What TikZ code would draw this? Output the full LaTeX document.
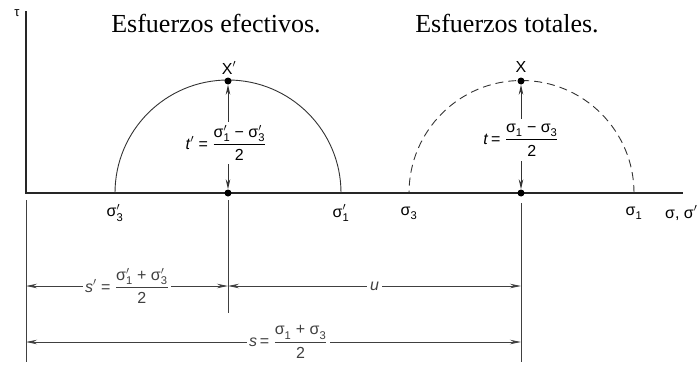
\documentclass[tikz,border=0pt]{standalone}
\usepackage{fontspec}
\usepackage{amsmath}
\setmainfont{Liberation Serif}
\newfontfamily\lab{Liberation Sans}
\usetikzlibrary{arrows.meta}
\newcommand\sgm[2]{$\text{σ}_{\text{#1}}^{#2}$}
\newcommand\frc[2]{$\dfrac{\mbox{\rule[-3pt]{0pt}{0pt}#1}}{\mbox{\rule{0pt}{13pt}#2}}$}
\begin{document}
\begin{tikzpicture}[x=1pt,y=-1pt,
  lbl/.style={font=\lab\fontsize{16}{18}\selectfont, inner sep=1pt},
  ttl/.style={font=\fontsize{26}{30}\selectfont, anchor=base, inner sep=0pt},
  axis/.style={line width=1.4pt, black!85},
  circ/.style={line width=0.9pt, black!80},
  ext/.style={line width=0.9pt, black!75},
  dim/.style={line width=0.9pt, black!75, {Stealth[length=11pt,width=4.5pt]}-{Stealth[length=11pt,width=4.5pt]}},
  varr/.style={line width=0.9pt, black!80, -{Stealth[length=10pt,width=4.5pt]}},
  dot/.style={circle, fill=black, inner sep=0pt, minimum size=7pt},
  dlab/.style={lbl, fill=white, inner sep=2pt}]
\useasboundingbox (0,0) rectangle (700,364);
% axes
\coordinate (Ttop) at (26,11);
\coordinate (O) at (26,193);
\coordinate (Xend) at (683,193);
\draw[axis] (Ttop) -- (O) -- (Xend);
\node[font=\lab\fontsize{13}{14}\selectfont, inner sep=0pt] (tau) at (17,13) {τ};
% titles
\node[ttl] (t1) at (216,32) {Esfuerzos efectivos.};
\node[ttl] (t2) at (507,32) {Esfuerzos totales.};
% effective circle
\coordinate (e3) at (115,193);
\coordinate (e1) at (341,193);
\draw[circ] (e1) arc[start angle=0, end angle=-180, radius=113];
% total circle
\coordinate (s3) at (409,193);
\coordinate (s1) at (634,193);
\draw[circ, dash pattern=on 8pt off 5pt] (s1) arc[start angle=0, end angle=-180, radius=112.5];
% dots
\node[dot] (Xp) at (228,81) {};
\node[dot] (Bp) at (228,193) {};
\node[dot] (X) at (521,81) {};
\node[dot] (B) at (521,193) {};
\node[lbl, font=\lab\fontsize{16}{18}\selectfont] (Xpl) at (229,68) {X$'$};
\node[lbl, font=\lab\fontsize{16}{18}\selectfont] (Xl) at (521,67) {X};
% axis labels
\node[lbl] (l3p) at (115,213) {\sgm{3}{\prime}};
\node[lbl] (l1p) at (341,213) {\sgm{1}{\prime}};
\node[lbl] (l3) at (409,213) {\sgm{3}{}};
\node[lbl] (l1) at (634,213) {\sgm{1}{}};
\node[lbl, anchor=west] (lax) at (664,213) {σ, σ$'$};
% t labels
\node[lbl, inner sep=0pt, minimum height=42pt] (tp) at (226,143) {\textit{t}$'$ = \frc{\sgm{1}{\prime} − \sgm{3}{\prime}}{2}};
\node[lbl, inner sep=0pt, minimum height=42pt] (tt) at (521,140) {\textit{t}\,= \frc{\sgm{1}{} − \sgm{3}{}}{2}};
\draw[varr] (Xp |- tp.north) -- (Xp);
\draw[varr] (Bp |- tp.south) -- (Bp);
\draw[varr] (X |- tt.north) -- (X);
\draw[varr] (B |- tt.south) -- (B);
% extension lines
\coordinate (a0) at (26,200);   \coordinate (a1) at (26,362);
\coordinate (b0) at (228,200);  \coordinate (b1) at (228,313);
\coordinate (c0) at (521,203);  \coordinate (c1) at (521,362);
\draw[ext] (a0) -- (a1);
\draw[ext] (b0) -- (b1);
\draw[ext] (c0) -- (c1);
% dimension lines
\coordinate (d1l) at (26,286);  \coordinate (d1r) at (228,286);
\coordinate (d2r) at (521,286);
\coordinate (d3l) at (26,342);  \coordinate (d3r) at (521,342);
\draw[dim] (d1l) -- node[dlab] (sp) {\textit{s}$'$ = \frc{\sgm{1}{\prime} + \sgm{3}{\prime}}{2}} (d1r);
\draw[dim] (d1r) -- node[dlab, inner sep=3pt] (u) {\textit{u}} (d2r);
\draw[dim] (d3l) -- node[dlab, pos=0.53] (s) {\textit{s}\,= \frc{\sgm{1}{} + \sgm{3}{}}{2}} (d3r);
\end{tikzpicture}
\end{document}
